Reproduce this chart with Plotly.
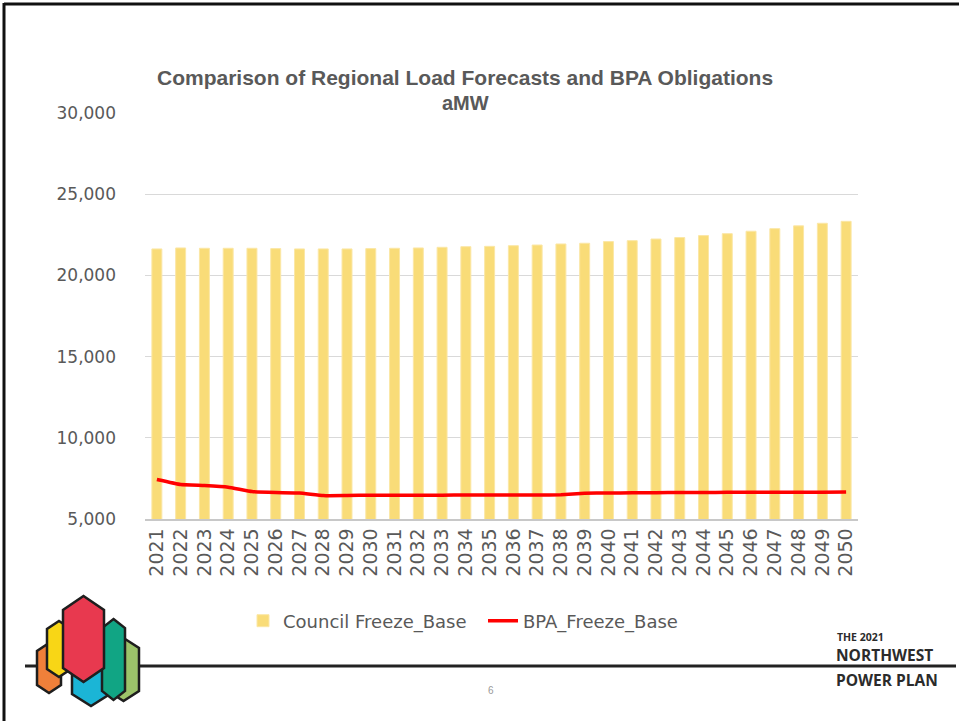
import plotly.graph_objects as go

years = [str(y) for y in range(2021, 2051)]
council_freeze_base = [21630, 21690, 21670, 21670, 21670, 21650, 21630, 21630, 21630, 21650,
                       21670, 21690, 21730, 21770, 21790, 21830, 21870, 21935, 21980, 22080,
                       22140, 22240, 22330, 22450, 22570, 22720, 22880, 23050, 23210, 23330]
bpa_freeze_base = [7430, 7120, 7060, 6960, 6690, 6630, 6600, 6440, 6450, 6460,
                   6460, 6470, 6470, 6480, 6480, 6480, 6480, 6490, 6590, 6600,
                   6610, 6620, 6630, 6630, 6640, 6650, 6650, 6650, 6640, 6670]
y_ticks = [5000, 10000, 15000, 20000, 25000, 30000]

W, H = 959, 721
L, R, T, B = 145, 101, 113, 202
PW, PH = W - L - R, H - T - B


def px(x):
    return (x - L) / PW


def py(y):
    return (H - B - y) / PH


GRAY = "#595959"

fig = go.Figure()
fig.add_trace(go.Bar(
    x=years, y=council_freeze_base, name="Council Freeze_Base",
    marker=dict(color="#F9DC78", line=dict(color="#FBE7A6", width=1)),
))
fig.add_trace(go.Scatter(
    x=years, y=bpa_freeze_base, name="BPA_Freeze_Base", mode="lines",
    line=dict(color="#FF0000", width=3.5, shape="spline", smoothing=0.3),
))

shapes = []
# slide border (top and left)
shapes.append(dict(type="line", xref="paper", yref="paper", x0=px(4), x1=px(959), y0=py(4), y1=py(4),
                   line=dict(color="#111111", width=3)))
shapes.append(dict(type="line", xref="paper", yref="paper", x0=px(4), x1=px(4), y0=py(3), y1=py(721),
                   line=dict(color="#111111", width=3)))
# bottom rule
shapes.append(dict(type="line", xref="paper", yref="paper", x0=px(25), x1=px(956), y0=py(666), y1=py(666),
                   line=dict(color="#222222", width=3)))


def hexpath(x0, x1, top, bottom, tip):
    cx = (x0 + x1) / 2
    pts = [(cx, top), (x1, top + tip), (x1, bottom - tip), (cx, bottom), (x0, bottom - tip), (x0, top + tip)]
    s = "M " + " L ".join(f"{px(a):.5f},{py(b):.5f}" for a, b in pts) + " Z"
    return s


logo = [
    (108, 139, 638, 701, 10, "#9CC46A"),
    (72, 110, 628, 706, 12, "#1BB5D6"),
    (102, 125, 619, 700, 9, "#11A584"),
    (37, 61, 643, 693, 8, "#F0803A"),
    (47, 71, 621, 677, 8, "#F8D616"),
    (63, 104, 596, 682, 14, "#E8394F"),
]
for x0, x1, t, b, tip, c in logo:
    shapes.append(dict(type="path", xref="paper", yref="paper", path=hexpath(x0, x1, t, b, tip),
                       fillcolor=c, line=dict(color="#1E1E1E", width=2.5)))

annotations = [
    dict(text="<b>Comparison of Regional Load Forecasts and BPA Obligations</b>", x=px(465), y=py(78),
         xref="paper", yref="paper", showarrow=False, xanchor="center", yanchor="middle",
         font=dict(family="Liberation Sans", size=21, color=GRAY)),
    dict(text="<b>aMW</b>", x=px(465), y=py(103), xref="paper", yref="paper", showarrow=False,
         xanchor="center", yanchor="middle", font=dict(family="Liberation Sans", size=20, color=GRAY)),
    dict(text="6", x=px(491), y=py(690), xref="paper", yref="paper", showarrow=False,
         xanchor="center", yanchor="middle",
         font=dict(family="Liberation Sans", size=10, color="#9A9A9A")),
    dict(text="<b>THE 2021</b>", x=px(835), y=py(637), xref="paper", yref="paper", showarrow=False,
         xanchor="left", yanchor="middle", font=dict(family="Open Sans", size=10.5, color="#2B2B2B")),
    dict(text="<b>NORTHWEST</b>", x=px(834), y=py(655), xref="paper", yref="paper", showarrow=False,
         xanchor="left", yanchor="middle", font=dict(family="Open Sans", size=15.5, color="#2B2B2B")),
    dict(text="<b>POWER PLAN</b>", x=px(834), y=py(680), xref="paper", yref="paper", showarrow=False,
         xanchor="left", yanchor="middle", font=dict(family="Open Sans", size=15.5, color="#2B2B2B")),
]

fig.update_layout(
    width=W, height=H, autosize=False,
    margin=dict(l=L, r=R, t=T, b=B, pad=0),
    paper_bgcolor="white", plot_bgcolor="white",
    bargap=0.58,
    showlegend=True,
    legend=dict(orientation="h", x=px(243), y=py(621), xanchor="left", yanchor="middle",
                font=dict(family="DejaVu Sans", size=18, color=GRAY), itemwidth=30,
                entrywidth=195, entrywidthmode="pixels",
                bgcolor="rgba(0,0,0,0)"),
    shapes=shapes,
    annotations=annotations,
    xaxis=dict(type="category", tickangle=-90, showgrid=False, showline=True,
               linecolor="#C8C8C8", linewidth=1.5, ticks="", ticklen=0,
               tickfont=dict(family="DejaVu Sans", size=19, color=GRAY)),
    yaxis=dict(range=[5000, 30000], tickvals=y_ticks, tickformat=",", showgrid=True,
               gridcolor="#D9D9D9", gridwidth=1, zeroline=False, showline=False, ticks="",
               ticklabelstandoff=28,
               tickfont=dict(family="DejaVu Sans", size=17, color=GRAY)),
)

fig.write_html("out.html", config={"displayModeBar": False},
               post_script="document.body.style.margin='0';document.body.style.overflow='hidden';")
